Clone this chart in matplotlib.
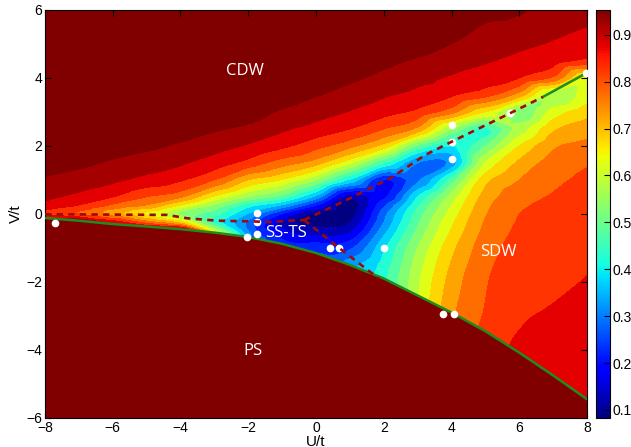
import numpy as np
import matplotlib
matplotlib.use('Agg')
from matplotlib import pyplot as plt
from matplotlib import tri as mtri
from matplotlib.colors import Normalize
from matplotlib.cm import ScalarMappable

# grid of the colour field
u_grid = np.arange(-8, 9, 1)
v_grid = [-6, -4, -3, -2, -1.5, -1, -0.5, -0.25, 0, 0.25, 0.5, 1, 1.5, 2, 2.5, 3, 3.5, 4, 4.5, 5, 6]
S = 0.97
z_rows = [
    # U: -8  -7  -6  -5  -4  -3  -2  -1   0   1   2   3   4   5   6   7   8
    [S, S, S, S, S, S, S, S, S, S, S, S, S, 0.85, 0.875, 0.89, 0.9],                                           # -6
    [S, S, S, S, S, S, S, S, S, S, 0.46, 0.62, 0.75, 0.825, 0.86, 0.87, 0.878],                                # -4
    [S, S, S, S, S, S, S, S, S, 0.4, 0.45, 0.6, 0.74, 0.805, 0.843, 0.855, 0.865],                             # -3
    [S, S, S, S, S, S, 0.5, 0.35, 0.33, 0.37, 0.44, 0.59, 0.72, 0.795, 0.83, 0.842, 0.852],                    # -2
    [S, S, S, S, S, S, 0.42, 0.3, 0.28, 0.33, 0.42, 0.575, 0.705, 0.787, 0.823, 0.837, 0.847],                 # -1.5
    [S, S, S, S, S, 0.9, 0.36, 0.24, 0.23, 0.24, 0.39, 0.55, 0.685, 0.777, 0.816, 0.832, 0.843],               # -1
    [S, S, S, S, S, 0.6, 0.3, 0.16, 0.12, 0.14, 0.33, 0.51, 0.655, 0.762, 0.808, 0.826, 0.838],                # -0.5
    [S, S, 0.88, 0.78, 0.68, 0.44, 0.29, 0.13, 0.085, 0.1, 0.3, 0.49, 0.64, 0.755, 0.804, 0.822, 0.835],       # -0.25
    [0.84, 0.8, 0.725, 0.64, 0.54, 0.47, 0.345, 0.2, 0.085, 0.08, 0.28, 0.47, 0.62, 0.745, 0.8, 0.818, 0.832],  # 0
    [0.886, 0.848, 0.79, 0.745, 0.645, 0.54, 0.42, 0.34, 0.2, 0.075, 0.24, 0.44, 0.6, 0.735, 0.79, 0.812, 0.827],  # 0.25
    [0.912, 0.886, 0.851, 0.8, 0.756, 0.64, 0.545, 0.475, 0.33, 0.12, 0.19, 0.4, 0.57, 0.72, 0.78, 0.804, 0.821],  # 0.5
    [0.944, 0.927, 0.91, 0.883, 0.856, 0.8, 0.7, 0.645, 0.55, 0.39, 0.2, 0.29, 0.47, 0.68, 0.75, 0.789, 0.81],     # 1
    [S, 0.96, 0.943, 0.924, 0.907, 0.874, 0.83, 0.774, 0.72, 0.61, 0.45, 0.3, 0.32, 0.6, 0.71, 0.77, 0.795],       # 1.5
    [S, S, S, 0.96, 0.943, 0.919, 0.894, 0.861, 0.817, 0.765, 0.68, 0.495, 0.4, 0.5, 0.65, 0.74, 0.765],           # 2
    [S, S, S, S, S, 0.955, 0.939, 0.908, 0.88, 0.85, 0.8, 0.735, 0.55, 0.44, 0.57, 0.69, 0.725],                   # 2.5
    [S, S, S, S, S, S, S, 0.945, 0.921, 0.897, 0.867, 0.835, 0.767, 0.65, 0.52, 0.62, 0.68],                       # 3
    [S, S, S, S, S, S, S, S, 0.953, 0.93, 0.906, 0.885, 0.857, 0.817, 0.725, 0.57, 0.62],                          # 3.5
    [S, S, S, S, S, S, S, S, S, 0.958, 0.938, 0.915, 0.894, 0.872, 0.85, 0.79, 0.63],                              # 4
    [S, S, S, S, S, S, S, S, S, S, 0.96, 0.944, 0.922, 0.905, 0.883, 0.87, 0.835],                                 # 4.5
    [S, S, S, S, S, S, S, S, S, S, S, S, 0.95, 0.93, 0.912, 0.895, 0.874],                                         # 5
    [S, S, S, S, S, S, S, S, S, S, S, S, S, 0.96, 0.956, 0.93, 0.92],                                              # 6
]

# phase boundaries
green_u = [-8, -7, -6, -5, -4, -3, -2, -1, 0, 1, 2, 3, 4, 5, 6, 7, 8]
green_v = [-0.12, -0.2, -0.3, -0.37, -0.45, -0.55, -0.68, -0.88, -1.15, -1.5, -1.9, -2.4, -2.9, -3.45, -4.08, -4.75, -5.45]
green_top_u = [6.7, 8]
green_top_v = [3.44, 4.15]

dash_left_u = [-8, -4.4, -3.8, -2.9, -1.9, -1.4, -0.9, -0.35]
dash_left_v = [-0.01, -0.03, -0.13, -0.2, -0.22, -0.24, -0.21, -0.18]
dash_up_u = [-0.35, 0.8, 2.2, 3.22, 4.0, 5.73, 6.7]
dash_up_v = [-0.18, 0.36, 1.05, 1.73, 2.12, 2.96, 3.44]
dash_low_u = [-0.35, 0.68, 1.85]
dash_low_v = [-0.18, -1.0, -1.9]

dots_u = [-7.7, -1.74, -1.74, -1.75, -2.05, 0.41, 0.68, 2.0, 3.75, 4.07, 4.0, 4.0, 4.0, 5.73, 7.97]
dots_v = [-0.26, 0.02, -0.23, -0.6, -0.67, -1.0, -1.0, -1.0, -2.94, -2.94, 2.6, 2.12, 1.62, 2.98, 4.15]

labels = ['CDW', 'SS-TS', 'SDW', 'PS']
label_u = [-2.1, -1.5, 5.37, -1.85]
label_v = [4.2, -0.56, -1.12, -4.03]
label_ha = ['center', 'left', 'center', 'center']

vmin, vmax = 0.083, 0.953
levels = np.arange(0.05, 1.001, 0.05)
cmap = plt.get_cmap('jet')
norm = Normalize(vmin=vmin, vmax=vmax)

plt.rcParams['font.family'] = ['Liberation Sans', 'DejaVu Sans']

fig = plt.figure(figsize=(6.31, 4.47), dpi=100)
ax = fig.add_axes([0.0713, 0.065, 0.859, 0.913])
cax = fig.add_axes([0.9445, 0.065, 0.0222, 0.913])

# smooth the read grid with matplotlib's own triangulation refiner
UU, VV = np.meshgrid(u_grid, v_grid)
Z = np.array(z_rows)
triang = mtri.Triangulation(UU.ravel(), VV.ravel())
interp = mtri.CubicTriInterpolator(triang, Z.ravel(), kind='geom')
refiner = mtri.UniformTriRefiner(triang)
tri_fine, z_fine = refiner.refine_field(Z.ravel(), triinterpolator=interp, subdiv=3)
ax.tricontourf(tri_fine, z_fine, levels=levels, cmap=cmap, norm=norm, extend='both', zorder=1)

# phase separated region below the lower boundary
ax.fill_between(green_u, green_v, -6, color=cmap(1.0), lw=0, zorder=2)

ax.plot(green_u, green_v, color='#1e8c1e', lw=1.8, zorder=4)
ax.plot(green_top_u, green_top_v, color='#1e8c1e', lw=1.8, zorder=4)

ax.plot(dots_u, dots_v, 'o', color='white', ms=4.5, mec='white', zorder=5)

dash = (0, (2.4, 2.0))
for du, dv in [(dash_left_u, dash_left_v), (dash_up_u, dash_up_v), (dash_low_u, dash_low_v)]:
    ax.plot(du, dv, color='#9e0a0a', lw=1.9, ls=dash, zorder=6)

for t, x, y, ha in zip(labels, label_u, label_v, label_ha):
    ax.text(x, y, t, color='white', fontsize=12, ha=ha, va='center',
            family=['Open Sans', 'DejaVu Sans'], zorder=7)

ax.set_xlim(-8, 8)
ax.set_ylim(-6, 6)
ax.set_xticks(np.arange(-8, 9, 2))
ax.set_yticks(np.arange(-6, 7, 2))
ax.tick_params(direction='in', top=True, right=True, labelsize=10, length=4, pad=2)
ax.set_xlabel('U/t', fontsize=11, labelpad=0)
ax.set_ylabel('V/t', fontsize=11, labelpad=2)

sm = ScalarMappable(norm=norm, cmap=cmap)
cb = fig.colorbar(sm, cax=cax)
cb.set_ticks(np.arange(0.1, 0.95, 0.1))
cb.ax.tick_params(direction='in', labelsize=10, length=4, pad=2)
cb.outline.set_linewidth(0.8)

fig.savefig('out.png', dpi=100)
